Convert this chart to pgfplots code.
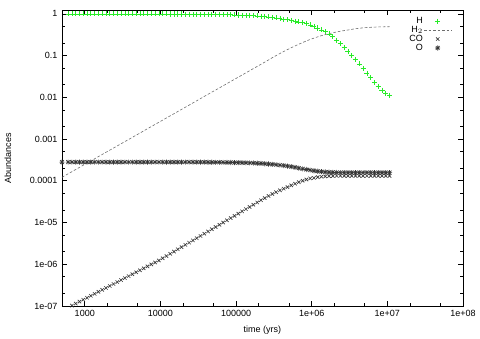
\documentclass[border=0pt]{standalone}
\usepackage{fontspec}
\setmainfont{Liberation Sans}
\usepackage{pgfplots}
\usepackage{pgfplotstable}
\pgfplotsset{compat=1.18}
\pgfdeclareplotmark{gpstar}{%
  \pgfpathmoveto{\pgfqpoint{-\pgfplotmarksize}{0pt}}%
  \pgfpathlineto{\pgfqpoint{\pgfplotmarksize}{0pt}}%
  \pgfpathmoveto{\pgfqpoint{0pt}{-\pgfplotmarksize}}%
  \pgfpathlineto{\pgfqpoint{0pt}{\pgfplotmarksize}}%
  \pgfpathmoveto{\pgfqpoint{-0.75\pgfplotmarksize}{-0.75\pgfplotmarksize}}%
  \pgfpathlineto{\pgfqpoint{0.75\pgfplotmarksize}{0.75\pgfplotmarksize}}%
  \pgfpathmoveto{\pgfqpoint{-0.75\pgfplotmarksize}{0.75\pgfplotmarksize}}%
  \pgfpathlineto{\pgfqpoint{0.75\pgfplotmarksize}{-0.75\pgfplotmarksize}}%
  \pgfusepathqstroke}
\pgfplotsset{
  mklegend/.style={legend image code/.code={\draw[##1] plot coordinates {(0.36cm,0cm)};}},
  lnlegend/.style={legend image code/.code={\draw[##1] (0cm,0cm) -- (0.72cm,0cm);}},
}
\definecolor{hgreen}{RGB}{40,235,40}
\definecolor{darkmk}{RGB}{55,55,55}
\definecolor{h2gray}{RGB}{110,110,110}
\pgfplotstableread{
t H H2 CO O
5.00e2 nan 1.21e-4 nan 2.80e-4
6.03e2 1.0 1.47e-4 9.16e-8 2.80e-4
6.76e2 1.0 1.65e-4 1.02e-7 2.80e-4
7.59e2 1.0 1.86e-4 1.14e-7 2.80e-4
8.51e2 1.0 2.09e-4 1.27e-7 2.80e-4
9.55e2 1.0 2.36e-4 1.41e-7 2.80e-4
1.072e3 0.999 2.65e-4 1.57e-7 2.80e-4
1.202e3 0.999 2.99e-4 1.75e-7 2.80e-4
1.349e3 0.999 3.36e-4 1.95e-7 2.80e-4
1.514e3 0.999 3.79e-4 2.18e-7 2.80e-4
1.698e3 0.999 4.26e-4 2.43e-7 2.80e-4
1.905e3 0.999 4.80e-4 2.70e-7 2.80e-4
2.138e3 0.999 5.40e-4 3.01e-7 2.80e-4
2.399e3 0.999 6.08e-4 3.36e-7 2.80e-4
2.692e3 0.999 6.85e-4 3.74e-7 2.80e-4
3.020e3 0.998 7.71e-4 4.17e-7 2.80e-4
3.388e3 0.998 8.68e-4 4.65e-7 2.80e-4
3.802e3 0.998 9.77e-4 5.18e-7 2.80e-4
4.266e3 0.998 1.10e-3 5.77e-7 2.80e-4
4.786e3 0.998 1.24e-3 6.43e-7 2.80e-4
5.370e3 0.997 1.39e-3 7.16e-7 2.80e-4
6.03e3 0.997 1.57e-3 7.98e-7 2.80e-4
6.76e3 0.996 1.77e-3 8.89e-7 2.80e-4
7.59e3 0.996 1.99e-3 9.91e-7 2.80e-4
8.51e3 0.996 2.24e-3 1.10e-6 2.80e-4
9.55e3 0.995 2.52e-3 1.23e-6 2.80e-4
1.072e4 0.994 2.84e-3 1.39e-6 2.80e-4
1.202e4 0.994 3.20e-3 1.57e-6 2.80e-4
1.349e4 0.993 3.60e-3 1.78e-6 2.80e-4
1.514e4 0.992 4.05e-3 2.01e-6 2.80e-4
1.698e4 0.991 4.56e-3 2.28e-6 2.80e-4
1.905e4 0.990 5.14e-3 2.57e-6 2.80e-4
2.138e4 0.988 5.78e-3 2.91e-6 2.80e-4
2.399e4 0.987 6.51e-3 3.29e-6 2.80e-4
2.692e4 0.985 7.33e-3 3.72e-6 2.80e-4
3.020e4 0.983 8.25e-3 4.21e-6 2.80e-4
3.388e4 0.981 9.29e-3 4.76e-6 2.79e-4
3.802e4 0.979 1.05e-2 5.38e-6 2.79e-4
4.266e4 0.976 1.18e-2 6.09e-6 2.78e-4
4.786e4 0.973 1.33e-2 6.89e-6 2.78e-4
5.370e4 0.970 1.49e-2 7.79e-6 2.77e-4
6.03e4 0.966 1.68e-2 8.81e-6 2.77e-4
6.76e4 0.962 1.89e-2 9.97e-6 2.76e-4
7.59e4 0.957 2.13e-2 1.13e-5 2.75e-4
8.51e4 0.952 2.40e-2 1.28e-5 2.74e-4
9.55e4 0.946 2.70e-2 1.44e-5 2.73e-4
1.072e5 0.939 3.04e-2 1.63e-5 2.72e-4
1.202e5 0.932 3.42e-2 1.85e-5 2.71e-4
1.349e5 0.923 3.85e-2 2.09e-5 2.70e-4
1.514e5 0.913 4.34e-2 2.36e-5 2.68e-4
1.698e5 0.902 4.88e-2 2.67e-5 2.66e-4
1.905e5 0.890 5.50e-2 3.02e-5 2.63e-4
2.138e5 0.876 6.19e-2 3.42e-5 2.60e-4
2.399e5 0.861 6.97e-2 3.85e-5 2.56e-4
2.692e5 0.843 7.85e-2 4.32e-5 2.52e-4
3.020e5 0.822 8.90e-2 4.81e-5 2.48e-4
3.388e5 0.800 0.100 5.33e-5 2.43e-4
3.802e5 0.776 0.112 5.89e-5 2.37e-4
4.266e5 0.750 0.125 6.46e-5 2.31e-4
4.786e5 0.722 0.139 7.05e-5 2.25e-4
5.370e5 0.692 0.154 7.76e-5 2.18e-4
6.03e5 0.668 0.170 8.51e-5 2.10e-4
6.76e5 0.641 0.187 9.27e-5 2.01e-4
7.59e5 0.612 0.205 1.00e-4 1.93e-4
8.51e5 0.579 0.224 1.07e-4 1.86e-4
9.55e5 0.543 0.243 1.14e-4 1.80e-4
1.072e6 0.500 0.262 1.17e-4 1.74e-4
1.202e6 0.457 0.281 1.22e-4 1.69e-4
1.349e6 0.412 0.300 1.25e-4 1.65e-4
1.514e6 0.372 0.318 1.27e-4 1.62e-4
1.698e6 0.331 0.335 1.29e-4 1.60e-4
1.905e6 0.282 0.352 1.30e-4 1.59e-4
2.138e6 0.234 0.368 1.31e-4 1.58e-4
2.399e6 0.193 0.383 1.31e-4 1.57e-4
2.692e6 0.157 0.397 1.31e-4 1.57e-4
3.020e6 0.126 0.410 1.31e-4 1.57e-4
3.388e6 0.100 0.425 1.31e-4 1.57e-4
3.802e6 0.0794 0.440 1.31e-4 1.57e-4
4.266e6 0.0630 0.452 1.31e-4 1.57e-4
4.786e6 0.0490 0.462 1.31e-4 1.57e-4
5.370e6 0.0380 0.470 1.31e-4 1.57e-4
6.03e6 0.0295 0.476 1.31e-4 1.57e-4
6.76e6 0.0229 0.481 1.31e-4 1.57e-4
7.59e6 0.0182 0.485 1.31e-4 1.57e-4
8.51e6 0.0148 0.488 1.31e-4 1.57e-4
9.55e6 0.0126 0.490 1.31e-4 1.57e-4
1.072e7 0.0112 0.492 1.31e-4 1.57e-4
}\abund
\begin{document}
\begin{tikzpicture}
\begin{axis}[
  scale only axis,
  width=300.75pt, height=221.6pt,
  xmode=log, ymode=log,
  xmin=500, xmax=1e8, ymin=1e-7, ymax=1.2,
  axis line style={black, line width=0.6pt},
  tick align=inside,
  major tick length=3.4pt, minor tick length=1.9pt,
  every tick/.style={black, line width=0.5pt},
  xtick={1e3,1e4,1e5,1e6,1e7,1e8},
  xticklabels={1000,10000,100000,1e+06,1e+07,1e+08},
  minor xtick={2e3,5e3,2e4,5e4,2e5,5e5,2e6,5e6,2e7,5e7},
  ytick={1e-7,1e-6,1e-5,1e-4,1e-3,1e-2,1e-1,1},
  yticklabels={1e-07,1e-06,1e-05,0.0001,0.001,0.01,0.1,1},
  minor ytick={2e-7,5e-7,2e-6,5e-6,2e-5,5e-5,2e-4,5e-4,2e-3,5e-3,2e-2,5e-2,2e-1,5e-1},
  tick label style={font=\fontsize{6.75}{8}\selectfont},
  label style={font=\fontsize{6.75}{8}\selectfont},
  xlabel={time (yrs)},
  ylabel={Abundances},
  xlabel style={at={(axis description cs:0.5,-0.081)}, anchor=center},
  ylabel style={at={(axis description cs:-0.135,0.5)}, anchor=center},
  legend plot pos=right,
  legend cell align=right,
  legend style={draw=none, fill=none, inner sep=0pt,
    at={(axis description cs:0.9726,0.98)}, anchor=north east,
    font=\fontsize{6.75}{8}\selectfont, row sep=0pt,
    nodes={inner sep=0.6pt, text height=4.6pt, text depth=0.9pt}},
]
\addplot[only marks, mark=+, mark size=1.9pt, color=hgreen, line width=0.5pt, mklegend]
  table[x=t, y=H] {\abund};
\addlegendentry{H}
\addplot[h2gray, line width=0.45pt, dash pattern=on 2pt off 1.4pt, mark=none, lnlegend]
  table[x=t, y=H2] {\abund};
\addlegendentry{H$_2$}
\addplot[only marks, mark=x, mark size=1.8pt, color=darkmk, line width=0.5pt, mklegend]
  table[x=t, y=CO] {\abund};
\addlegendentry{CO}
\addplot[only marks, mark=gpstar, mark size=1.9pt, color=darkmk, line width=0.5pt, mklegend]
  table[x=t, y=O] {\abund};
\addlegendentry{O}
\end{axis}
\path[use as bounding box] (-46.5pt,-22.5pt) rectangle (313.5pt,229.5pt);
\end{tikzpicture}
\end{document}
